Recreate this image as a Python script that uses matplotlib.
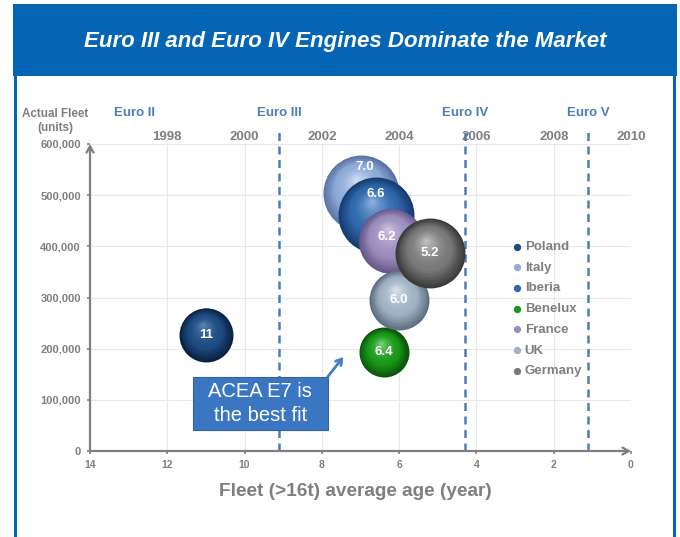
import numpy as np
import matplotlib
matplotlib.use("Agg")
import matplotlib.pyplot as plt
from matplotlib.patches import Rectangle
from matplotlib.lines import Line2D
from matplotlib.transforms import offset_copy, blended_transform_factory
from matplotlib.colors import to_rgb

plt.rcParams['font.family'] = ['Liberation Sans', 'DejaVu Sans']

# data
countries = ["Poland", "Italy", "Iberia", "Benelux", "France", "UK", "Germany"]
avg_age = [11.0, 7.0, 6.6, 6.4, 6.2, 6.0, 5.2]
fleet = [227000, 504000, 461000, 193000, 411000, 295000, 387000]
bubble_weight = [729, 1444, 1444, 625, 1056, 900, 1225]
age_labels = ["11", "7.0", "6.6", "6.4", "6.2", "6.0", "5.2"]

euro_stages = ["Euro II", "Euro III", "Euro IV", "Euro V"]
euro_age = [12.85, 9.1, 4.3, 1.1]
year_ticks = [1998, 2000, 2002, 2004, 2006, 2008, 2010]
age_ticks = [14, 12, 10, 8, 6, 4, 2, 0]
fleet_ticks = [0, 100000, 200000, 300000, 400000, 500000, 600000]

# sphere colours: edge, body, highlight
colours = {
    "Poland": ("#0a2140", "#1d4a80", "#5f88b8"),
    "Italy": ("#5a73a3", "#8eaad8", "#d6e2f5"),
    "Iberia": ("#163c70", "#2e68ad", "#94b9e4"),
    "Benelux": ("#0a520a", "#189818", "#80d880"),
    "France": ("#67588a", "#9c8dbd", "#d4cae8"),
    "UK": ("#5d6d80", "#9fb1c3", "#dde6ef"),
    "Germany": ("#393939", "#787878", "#c8c8c8"),
}
label_shift = {"Italy": (3, 19), "Iberia": (0, 15), "France": (-3, 3)}

GRAY = "#7f7f7f"
BLUE = "#4a7ebb"
FRAME = "#0565b5"

fig = plt.figure(figsize=(6.8, 5.37), dpi=100)
fig.patch.set_facecolor("white")

# header band and frame
W, H = 680.0, 537.0
fig.patches.append(Rectangle((13 / W, (537 - 76) / H), 664 / W, 72 / H, transform=fig.transFigure,
                             fc=FRAME, ec="none", zorder=1))
for xf in [15 / W, 674 / W]:
    fig.lines.append(Line2D([xf, xf], [0, (537 - 75) / H], transform=fig.transFigure,
                            color=FRAME, lw=2.2))
fig.text(345 / W, (537 - 42) / H, "Euro III and Euro IV Engines Dominate the Market",
         color="white", fontsize=16, fontweight="bold", fontstyle="italic",
         ha="center", va="center")

ax = fig.add_axes([90 / W, (537 - 451) / H, (631 - 90) / W, (451 - 144) / H])
ax.set_xlim(14, 0)
ax.set_ylim(0, 600000)
ax.set_xticks(age_ticks)
ax.set_yticks(fleet_ticks)
ax.set_yticklabels([f"{v:,}" for v in fleet_ticks])
ax.grid(True, color="#e8e8e8", lw=0.8)
ax.set_axisbelow(True)
for side in ["top", "right", "left", "bottom"]:
    ax.spines[side].set_visible(False)
ax.tick_params(axis="y", direction="out", length=2.5, width=1.2, color=GRAY, labelcolor=GRAY,
               labelsize=8, pad=4)
ax.tick_params(axis="x", direction="out", length=2.5, width=1.2, color=GRAY, labelcolor=GRAY,
               labelsize=7.5, pad=4)
for lab in ax.get_yticklabels() + ax.get_xticklabels():
    lab.set_fontweight("bold")

# axis lines with arrow heads
arrow = dict(arrowstyle="->,head_length=0.45,head_width=0.25", color=GRAY, lw=1.6,
             shrinkA=0, shrinkB=0)
ax.annotate("", xy=(0, 1), xytext=(0, 0), xycoords="axes fraction", arrowprops=arrow)
ax.annotate("", xy=(1, 0), xytext=(0, 0), xycoords="axes fraction", arrowprops=arrow)

# year axis on top
sec = ax.secondary_xaxis("top", functions=(lambda a: 2010 - a, lambda yr: 2010 - yr))
sec.set_xticks(year_ticks)
sec.tick_params(length=0, pad=0.5, labelcolor=GRAY, labelsize=9.5)
for lab in sec.get_xticklabels():
    lab.set_fontweight("bold")
sec.spines["top"].set_visible(False)

# emission stage markers
bt = blended_transform_factory(ax.transData, ax.transAxes)
for name, a in zip(euro_stages, euro_age):
    ax.text(a, 1.1, name, transform=bt, ha="center", va="center", color=BLUE,
            fontsize=9.5, fontweight="bold")
    if name != "Euro II":
        ax.plot([a, a], [0, 1.055], transform=bt, clip_on=False, color=BLUE, lw=1.8,
                ls=(0, (3.2, 2.2)), zorder=2)


def sphere(x, y, weight, cols, z):
    s = weight * 2.07
    R = np.sqrt(s) / 2
    edge, body, light = [np.array(to_rgb(c)) for c in cols]
    n = 28
    for i in range(n):
        t = i / n
        if t < 0.35:
            c = edge + (body - edge) * (t / 0.35)
        else:
            c = body + (light - body) * ((t - 0.35) / 0.65) ** 1.6
        f = 1 - t
        tr = offset_copy(ax.transData, fig=fig, x=-0.12 * R * t, y=0.38 * R * t, units="points")
        ax.scatter([x], [y], s=s * f * f, color=c, transform=tr, zorder=z, lw=0)


for i, name in enumerate(countries):
    sphere(avg_age[i], fleet[i], bubble_weight[i], colours[name], 3 + i)
    dx, dy = label_shift.get(name, (0, 0))
    ax.annotate(age_labels[i], (avg_age[i], fleet[i]), xytext=(dx, dy), textcoords="offset points",
                ha="center", va="center", color="white", fontsize=9.5, fontweight="bold",
                zorder=3 + i + 0.5)

# legend
handles = [ax.scatter([], [], s=18, color=colours[c][1]) for c in countries]
leg = ax.legend(handles, countries, loc="upper left", bbox_to_anchor=(497 / W, (537 - 229) / H),
                bbox_transform=fig.transFigure, frameon=False, handletextpad=0.0,
                labelspacing=0.64, handlelength=1.2, prop={"weight": "bold", "size": 9.5})
for t in leg.get_texts():
    t.set_color(GRAY)

# callout
ax.add_patch(Rectangle((7.84, 41000), 3.495, 103600, fc="#3b76c2", ec="#2f63a5", lw=0.8,
                       zorder=20))
ax.text(9.59, 93000, "ACEA E7 is\nthe best fit", ha="center", va="center", color="white",
        fontsize=14.5, linespacing=1.3, zorder=21)
ax.annotate("", xy=(7.4, 188000), xytext=(7.85, 145000),
            arrowprops=dict(arrowstyle="->,head_length=0.4,head_width=0.25", color=BLUE, lw=2,
                            shrinkA=0),
            zorder=19)

# axis titles
fig.text(55 / W, (537 - 121) / H, "Actual Fleet\n(units)", ha="center", va="center",
         color=GRAY, fontsize=8.4, fontweight="bold", linespacing=1.15)
fig.text(355 / W, (537 - 492) / H, "Fleet (>16t) average age (year)", ha="center", va="center",
         color=GRAY, fontsize=13.7, fontweight="bold")

fig.savefig("out.png", dpi=100)
